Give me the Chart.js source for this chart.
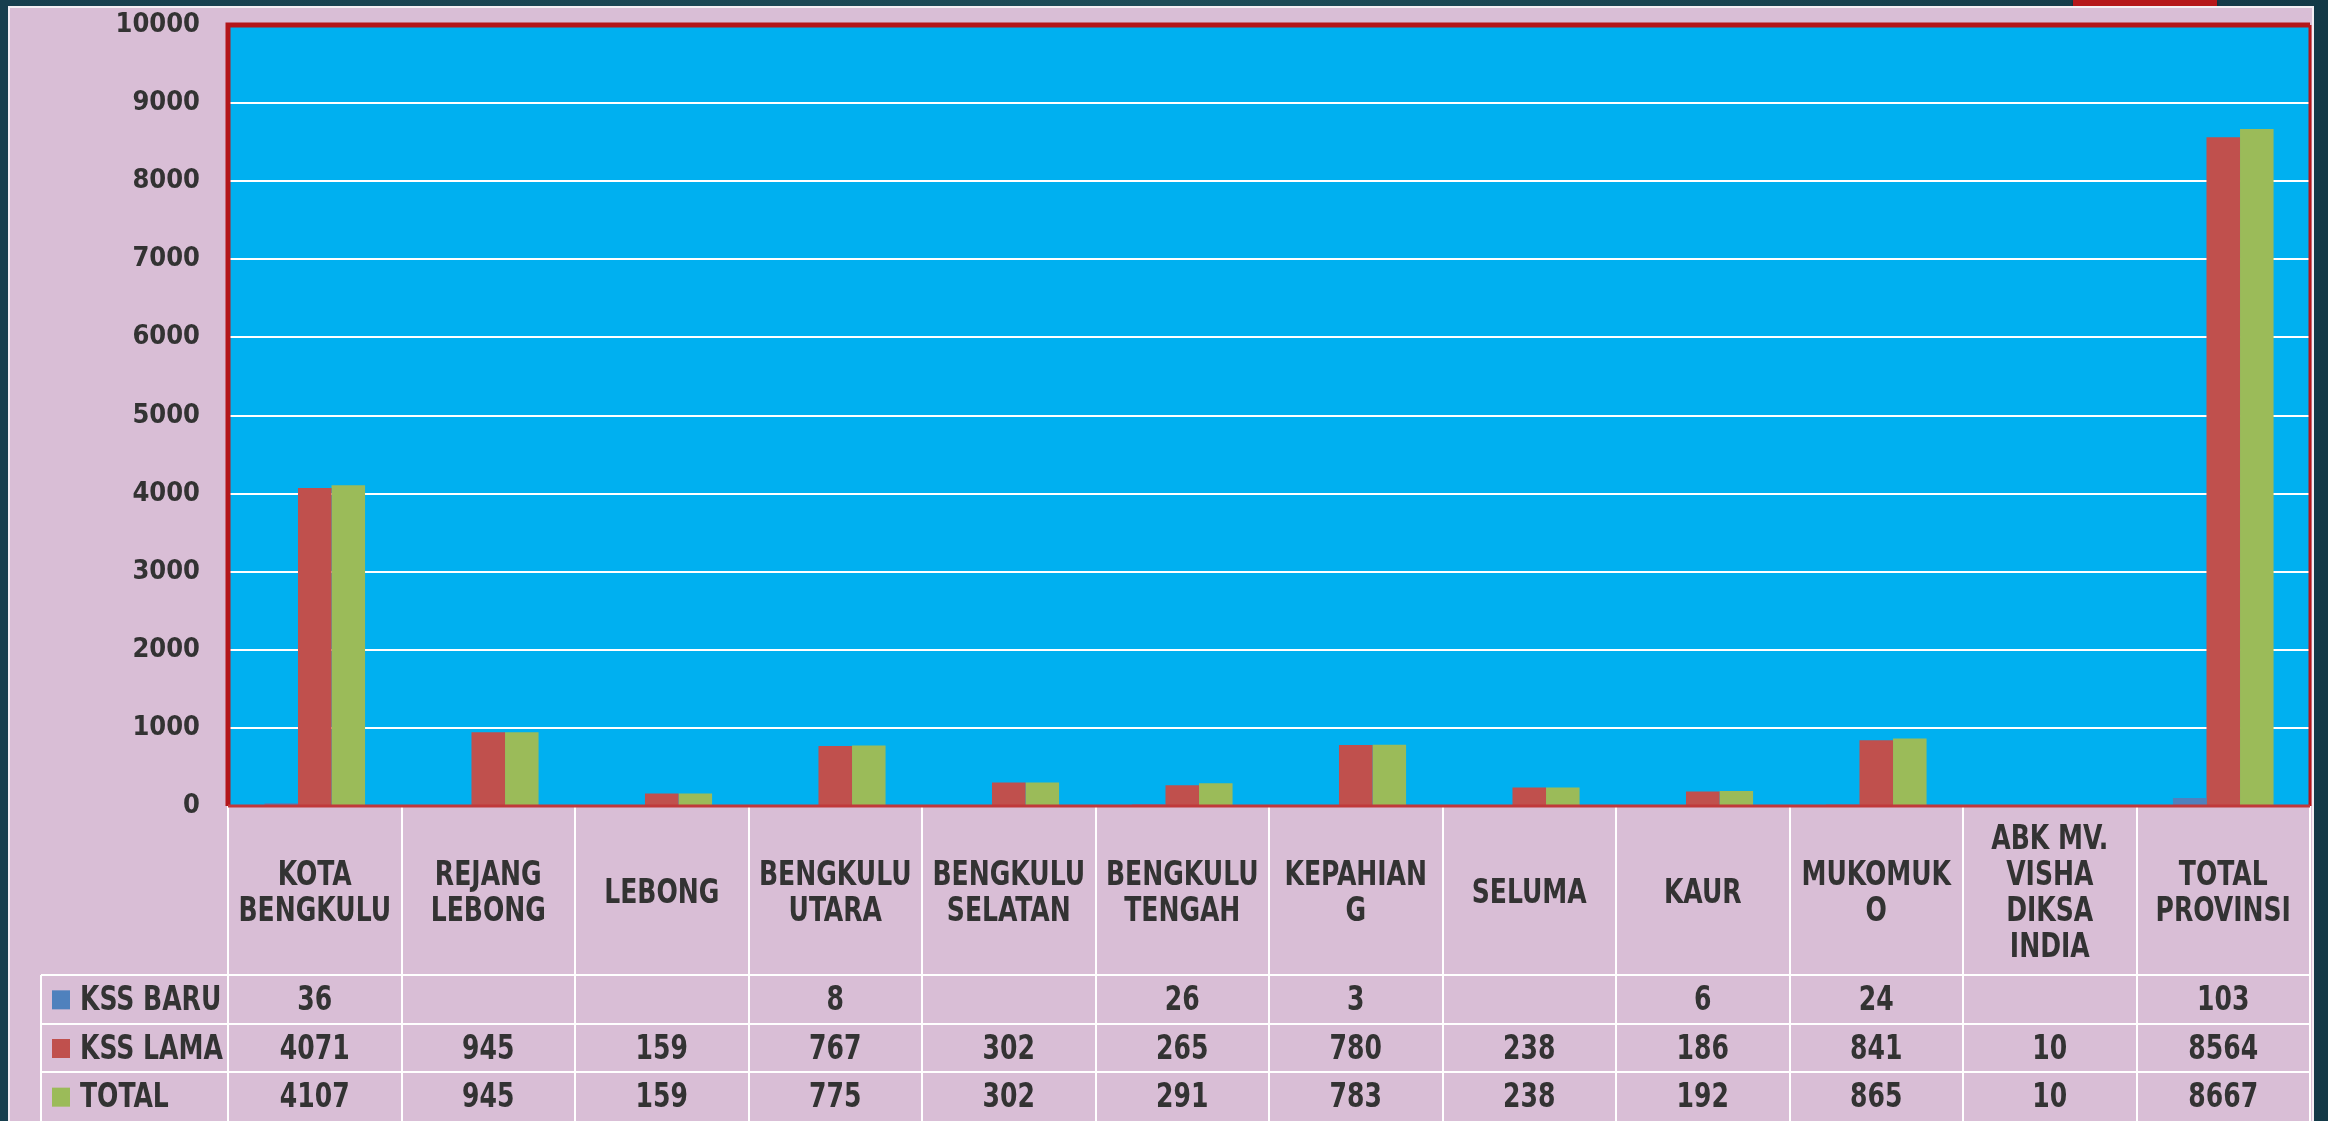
<!DOCTYPE html>
<html>
<head>
<meta charset="utf-8">
<script src="https://cdn.jsdelivr.net/npm/chart.js@4.4.0/dist/chart.umd.min.js"></script>
<style>
  html, body { margin: 0; padding: 0; }
  body {
    width: 2328px; height: 1121px; overflow: hidden; position: relative;
    background: linear-gradient(90deg, #173f4e 0%, #1d4c58 50%, #133947 100%);
  }
  #panel {
    position: absolute; left: 8px; top: 6px; width: 2302px; height: 1120px;
    background: #d9bed6; border: 2px solid #f4eef4; border-bottom: none;
  }
  #tab {
    position: absolute; left: 2073px; top: 0; width: 144px; height: 6px;
    background: #b5171a; box-shadow: 0 1px 3px rgba(0,0,0,0.5);
  }
  #myChart { position: absolute; left: 0; top: 0; }
</style>
</head>
<body>
<div id="tab"></div>
<div id="panel"></div>
<canvas id="myChart" width="2328" height="1121"></canvas>
<script>
const categories = [
  ["KOTA", "BENGKULU"],
  ["REJANG", "LEBONG"],
  ["LEBONG"],
  ["BENGKULU", "UTARA"],
  ["BENGKULU", "SELATAN"],
  ["BENGKULU", "TENGAH"],
  ["KEPAHIAN", "G"],
  ["SELUMA"],
  ["KAUR"],
  ["MUKOMUK", "O"],
  ["ABK MV.", "VISHA", "DIKSA", "INDIA"],
  ["TOTAL", "PROVINSI"],
];
const kssBaru = [36, null, null, 8, null, 26, 3, null, 6, 24, null, 103];
const kssLama = [4071, 945, 159, 767, 302, 265, 780, 238, 186, 841, 10, 8564];
const total = [4107, 945, 159, 775, 302, 291, 783, 238, 192, 865, 10, 8667];
const yTicks = [0, 1000, 2000, 3000, 4000, 5000, 6000, 7000, 8000, 9000, 10000];

const FONT = "'DejaVu Sans Condensed', 'DejaVu Sans', sans-serif";
const TEXT = "#333333";
const SX = 0.82; // squeeze the table text a bit, the original font is very narrow

document.addEventListener("DOMContentLoaded", function () {
  const ctx = document.getElementById("myChart").getContext("2d");

  function drawText(c, t, x, y, align) {
    c.save();
    c.translate(x, y);
    c.scale(SX, 1);
    c.textAlign = align;
    c.fillText(t, 0, 0);
    c.restore();
  }

  // plot background, frame and the data table under the x axis
  const tablePlugin = {
    id: "dataTable",
    beforeDraw(chart) {
      const a = chart.chartArea;
      const c = chart.ctx;
      c.save();
      c.fillStyle = "#00b0f0";
      c.fillRect(a.left, a.top, a.right - a.left, a.bottom - a.top);
      c.restore();
    },
    afterDraw(chart) {
      const c = chart.ctx;
      const a = chart.chartArea;
      const xs = chart.scales.x;
      const n = chart.data.labels.length;
      const colW = (a.right - a.left) / n;
      const headBottom = xs.bottom;
      const rowH = (chart.height - headBottom) / 3;
      const legendLeft = 41;

      c.save();
      // white table lines
      c.strokeStyle = "#ffffff";
      c.lineWidth = 2;
      c.beginPath();
      for (let i = 0; i <= n; i++) {
        const px = Math.round(a.left + i * colW);
        c.moveTo(px, a.bottom);
        c.lineTo(px, chart.height);
      }
      c.moveTo(legendLeft, headBottom);
      c.lineTo(legendLeft, chart.height);
      for (let r = 0; r < 3; r++) {
        const py = Math.round(headBottom + r * rowH);
        c.moveTo(legendLeft, py);
        c.lineTo(a.right, py);
      }
      c.stroke();

      // category header labels
      c.fillStyle = TEXT;
      c.font = "bold 34px " + FONT;
      c.textBaseline = "middle";
      const lh = 36;
      const midY = (a.bottom + headBottom) / 2 + 4;
      chart.data.labels.forEach((lab, i) => {
        const cx = xs.getPixelForTick(i);
        const lines = Array.isArray(lab) ? lab : [lab];
        const y0 = midY - (lines.length - 1) * lh / 2;
        lines.forEach((t, k) => drawText(c, t, cx, y0 + k * lh, "center"));
      });

      // data rows with legend keys
      chart.data.datasets.forEach((ds, r) => {
        const cy = headBottom + r * rowH + rowH / 2 + 2;
        c.fillStyle = ds.backgroundColor;
        c.fillRect(52, cy - 11, 18, 19);
        c.fillStyle = TEXT;
        drawText(c, ds.label, 80, cy, "left");
        ds.data.forEach((v, i) => {
          if (v === null) return;
          drawText(c, String(v), xs.getPixelForTick(i), cy, "center");
        });
      });

      // red frame of the plot
      c.strokeStyle = "#b3161a";
      c.lineWidth = 5;
      c.beginPath();
      c.moveTo(a.left, a.bottom);
      c.lineTo(a.left, a.top);
      c.lineTo(a.right, a.top);
      c.stroke();
      c.lineWidth = 3;
      c.beginPath();
      c.moveTo(a.right, a.top);
      c.lineTo(a.right, a.bottom);
      c.stroke();
      c.strokeStyle = "#c0393b";
      c.lineWidth = 3;
      c.beginPath();
      c.moveTo(a.left, a.bottom);
      c.lineTo(a.right, a.bottom);
      c.stroke();
      c.restore();
    },
  };

  const myChart = new Chart(ctx, {
    type: "bar",
    data: {
      labels: categories,
      datasets: [
        { label: "KSS BARU", data: kssBaru, backgroundColor: "#4f81bd" },
        { label: "KSS LAMA", data: kssLama, backgroundColor: "#c0504d" },
        { label: "TOTAL", data: total, backgroundColor: "#9bbb59" },
      ],
    },
    options: {
      responsive: false,
      animation: false,
      devicePixelRatio: 1,
      layout: { padding: { top: 25, right: 18, bottom: 146, left: 0 } },
      plugins: {
        legend: { display: false },
        tooltip: { enabled: false },
      },
      datasets: {
        bar: { categoryPercentage: 0.58, barPercentage: 1.0 },
      },
      scales: {
        x: {
          grid: { display: false, drawTicks: false },
          border: { display: false },
          ticks: { display: false },
          afterFit: (scale) => { scale.height = 169; },
        },
        y: {
          min: 0,
          max: 10000,
          afterBuildTicks: (scale) => {
            scale.ticks = yTicks.map((v) => ({ value: v }));
          },
          grid: {
            color: "#ffffff",
            lineWidth: 2,
            drawTicks: true,
            tickLength: 28,
            tickColor: "rgba(0,0,0,0)",
          },
          border: { display: false },
          ticks: {
            padding: 0,
            color: TEXT,
            font: { family: FONT, size: 27, weight: "bold" },
            callback: (v) => String(v),
          },
          afterFit: (scale) => { scale.width = 228; },
        },
      },
    },
    plugins: [tablePlugin],
  });
});
</script>
</body>
</html>
